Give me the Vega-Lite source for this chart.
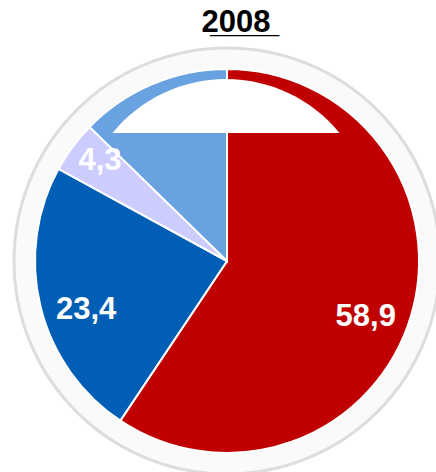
{
  "$schema": "https://vega.github.io/schema/vega-lite/v6.json",
  "width": 400,
  "height": 400,
  "autosize": "none",
  "padding": {"left": 27, "top": 61, "right": 9, "bottom": 11},
  "background": "white",
  "title": {
    "text": "2̲0̲0̲8̲",
    "font": "Liberation Sans",
    "fontSize": 31,
    "fontWeight": "bold",
    "color": "black",
    "anchor": "middle",
    "dx": 9,
    "offset": 3
  },
  "config": {"view": {"stroke": null}},
  "data": {
    "values": [
      {"party": "A", "value": 58.9, "label": "58,9", "order": 1},
      {"party": "B", "value": 23.4, "label": "23,4", "order": 2},
      {"party": "C", "value": 4.3, "label": "4,3", "order": 3},
      {"party": "D", "value": 12.6, "label": "", "order": 4}
    ]
  },
  "layer": [
    {
      "data": {"values": [{}]},
      "mark": {"type": "arc", "radius": 213, "theta": 0, "theta2": 6.2832, "fill": "#FAFAFA", "stroke": "#DDDDDD", "strokeWidth": 3},
      "encoding": {}
    },
    {
      "mark": {"type": "arc", "radius": 192, "stroke": "white", "strokeWidth": 2},
      "encoding": {
        "theta": {"field": "value", "type": "quantitative", "stack": true},
        "order": {"field": "order", "type": "quantitative"},
        "color": {
          "field": "party",
          "type": "nominal",
          "scale": {"domain": ["A", "B", "C", "D"], "range": ["#C00000", "#005EB4", "#CCCCFF", "#68A2E0"]},
          "legend": null
        }
      }
    },
    {
      "data": {"values": [{}]},
      "mark": {
        "type": "point",
        "shape": "M-1,0.238A1.289,1.289,0,0,1,1,0.238Z",
        "size": 51529,
        "filled": true,
        "fill": "white",
        "opacity": 1,
        "strokeWidth": 0,
        "yOffset": -155,
        "xOffset": -1
      },
      "encoding": {}
    },
    {
      "mark": {"type": "text", "radius": 145, "dy": 14, "font": "Liberation Sans", "fontSize": 31, "fontWeight": "bold", "fill": "white"},
      "encoding": {
        "theta": {"field": "value", "type": "quantitative", "stack": true},
        "order": {"field": "order", "type": "quantitative"},
        "text": {"condition": {"test": "datum.value > 10", "field": "label"}, "value": ""}
      }
    },
    {
      "mark": {"type": "text", "radius": 158, "dy": -6, "font": "Liberation Sans", "fontSize": 31, "fontWeight": "bold", "fill": "white"},
      "encoding": {
        "theta": {"field": "value", "type": "quantitative", "stack": true},
        "order": {"field": "order", "type": "quantitative"},
        "text": {"condition": {"test": "datum.value < 10", "field": "label"}, "value": ""}
      }
    }
  ]
}
